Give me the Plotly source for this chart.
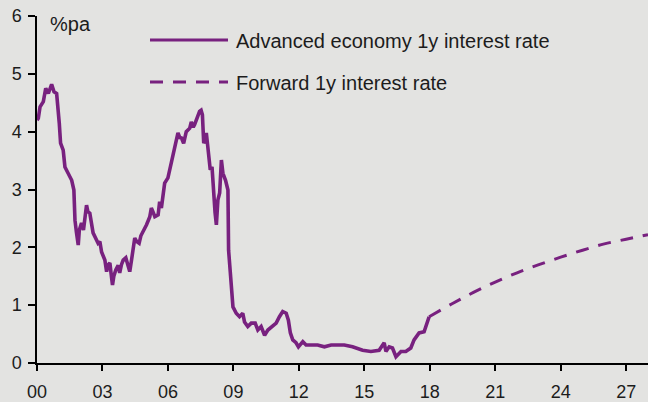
import plotly.graph_objects as go

# Historical advanced economy 1y interest rate (decimal years, %pa)
hist_years = [2000.00, 2000.06, 2000.14, 2000.29, 2000.40, 2000.52, 2000.67, 2000.78, 2000.90, 2000.97,
              2001.02, 2001.08, 2001.20, 2001.28, 2001.43, 2001.59, 2001.69, 2001.74, 2001.81, 2001.89,
              2001.94, 2002.04, 2002.13, 2002.19, 2002.27, 2002.33, 2002.42, 2002.57, 2002.70, 2002.80,
              2002.88, 2002.96, 2003.11, 2003.19, 2003.27, 2003.34, 2003.41, 2003.46, 2003.52, 2003.61,
              2003.72, 2003.79, 2003.87, 2003.95, 2004.07, 2004.16, 2004.25, 2004.32, 2004.40, 2004.48,
              2004.57, 2004.68, 2004.76, 2004.86, 2005.02, 2005.17, 2005.24, 2005.33, 2005.40, 2005.55,
              2005.62, 2005.70, 2005.78, 2005.85, 2006.00, 2006.16, 2006.31, 2006.46, 2006.54, 2006.62,
              2006.72, 2006.84, 2007.00, 2007.07, 2007.16, 2007.22, 2007.33, 2007.45, 2007.52, 2007.58,
              2007.64, 2007.70, 2007.76, 2007.82, 2007.86, 2007.94, 2008.02, 2008.06, 2008.09, 2008.16,
              2008.22, 2008.29, 2008.37, 2008.45, 2008.52, 2008.64, 2008.75, 2008.78, 2008.86, 2008.93,
              2008.98, 2009.13, 2009.28, 2009.43, 2009.51, 2009.66, 2009.82, 2010.00, 2010.12, 2010.27,
              2010.43, 2010.58, 2010.80, 2010.96, 2011.11, 2011.26, 2011.42, 2011.52, 2011.61, 2011.72,
              2011.87, 2011.98, 2012.18, 2012.33, 2012.56, 2012.86, 2013.17, 2013.48, 2013.78, 2014.08,
              2014.46, 2014.92, 2015.30, 2015.68, 2015.91, 2015.99, 2016.14, 2016.29, 2016.45, 2016.68,
              2016.90, 2017.13, 2017.28, 2017.51, 2017.74, 2017.97]
hist_values = [4.20, 4.23, 4.43, 4.52, 4.75, 4.66, 4.82, 4.69, 4.66, 4.43,
               4.15, 3.80, 3.68, 3.39, 3.28, 3.16, 2.99, 2.47, 2.25, 2.04,
               2.30, 2.42, 2.30, 2.47, 2.73, 2.62, 2.59, 2.25, 2.15, 2.07,
               2.10, 1.92, 1.78, 1.58, 1.70, 1.73, 1.50, 1.35, 1.50, 1.61,
               1.69, 1.56, 1.70, 1.78, 1.82, 1.70, 1.58, 1.75, 2.01, 2.16,
               2.10, 2.07, 2.20, 2.27, 2.39, 2.53, 2.68, 2.60, 2.53, 2.56,
               2.79, 2.68, 2.94, 3.11, 3.20, 3.46, 3.68, 3.98, 3.90, 3.89,
               3.80, 4.00, 4.06, 4.17, 4.08, 4.12, 4.23, 4.35, 4.37, 4.29,
               3.80, 3.85, 3.98, 3.80, 3.68, 3.34, 3.39, 3.10, 2.82, 2.60,
               2.39, 2.82, 2.94, 3.51, 3.28, 3.16, 2.99, 1.95, 1.56, 1.26,
               0.97, 0.86, 0.80, 0.86, 0.71, 0.63, 0.69, 0.69, 0.57, 0.63,
               0.48, 0.57, 0.63, 0.69, 0.80, 0.89, 0.86, 0.74, 0.52, 0.40,
               0.35, 0.28, 0.37, 0.31, 0.31, 0.31, 0.28, 0.31, 0.31, 0.31,
               0.28, 0.22, 0.20, 0.22, 0.35, 0.20, 0.28, 0.26, 0.11, 0.20,
               0.20, 0.26, 0.40, 0.52, 0.54, 0.80]

# Forward 1y interest rate
fwd_years = [2017.97, 2019, 2020, 2021, 2022, 2023, 2024, 2025, 2026, 2027, 2028]
fwd_values = [0.80, 1.02, 1.22, 1.40, 1.56, 1.70, 1.83, 1.95, 2.06, 2.14, 2.22]

tick_vals = [2000, 2003, 2006, 2009, 2012, 2015, 2018, 2021, 2024, 2027]
tick_text = ["00", "03", "06", "09", "12", "15", "18", "21", "24", "27"]

series_names = ["Advanced economy 1y interest rate", "Forward 1y interest rate"]

PURPLE = "#78217f"
BG = "#e3e3e1"
TXT = "#1c1c1c"
FONT = "Liberation Sans"

fig = go.Figure()
fig.add_trace(go.Scatter(x=hist_years, y=hist_values, mode="lines",
                         line=dict(color=PURPLE, width=3.6), name=series_names[0],
                         showlegend=False))
fig.add_trace(go.Scatter(x=fwd_years, y=fwd_values, mode="lines",
                         line=dict(color=PURPLE, width=3, dash="13px,10px", shape="spline"),
                         name=series_names[1], showlegend=False))

W, H = 648, 402
ML, MR, MT, MB = 37, 0, 16, 39
pw, ph = W - ML - MR, H - MT - MB

def px(x):
    return (x - ML) / pw

def py(y):
    return (H - MB - y) / ph

# manual legend
fig.add_shape(type="line", xref="paper", yref="paper", x0=px(150), x1=px(228), y0=py(40), y1=py(40),
              line=dict(color=PURPLE, width=3))
fig.add_shape(type="line", xref="paper", yref="paper", x0=px(150), x1=px(228), y0=py(82), y1=py(82),
              line=dict(color=PURPLE, width=3, dash="13px,10px"))
for name, yy in zip(series_names, [41, 83]):
    fig.add_annotation(xref="paper", yref="paper", x=px(234), y=py(yy), text=name,
                       showarrow=False, xanchor="left", yanchor="middle",
                       font=dict(family=FONT, size=20, color=TXT))
fig.add_annotation(xref="paper", yref="paper", x=px(48), y=py(24), text="%pa",
                   showarrow=False, xanchor="left", yanchor="middle",
                   font=dict(family=FONT, size=20, color=TXT))

fig.update_layout(
    width=W, height=H,
    margin=dict(l=ML, r=MR, t=MT, b=MB, pad=0),
    paper_bgcolor=BG, plot_bgcolor=BG,
    font=dict(family=FONT, size=18, color=TXT),
    showlegend=False,
)
fig.update_xaxes(range=[2000, 2028], tickvals=tick_vals, ticktext=tick_text,
                 showgrid=False, zeroline=False, showline=True, linecolor="black", linewidth=1.5,
                 ticks="outside", ticklen=6, tickwidth=1.5, tickcolor="black", ticklabelstandoff=6,
                 tickfont=dict(family=FONT, size=18, color=TXT))
fig.update_yaxes(range=[0, 6], tickvals=[0, 1, 2, 3, 4, 5, 6],
                 showgrid=False, zeroline=False, showline=True, linecolor="black", linewidth=1.5,
                 ticks="outside", ticklen=7, tickwidth=1.5, tickcolor="black", ticklabelstandoff=3,
                 tickfont=dict(family=FONT, size=18, color=TXT))

fig.write_html("out.html", config={"displayModeBar": False},
               post_script="document.body.style.margin='0';document.body.style.background='" + BG + "';")
